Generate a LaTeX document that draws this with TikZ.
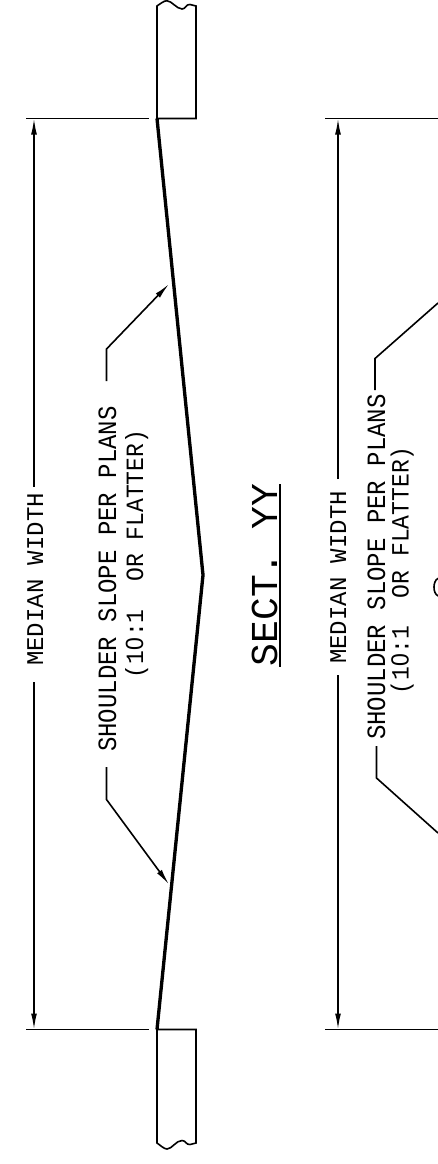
\documentclass[tikz,border=0pt]{standalone}
\usepackage{fontspec}
\usepackage{graphicx}
\setmainfont{Liberation Mono}
\newfontfamily\plainzero{Liberation Sans}
\newcommand{\zeroglyph}{\makebox[0.6em]{\plainzero 0}}
\usetikzlibrary{arrows.meta}
\tikzset{
  thinln/.style={line width=1.2pt,line cap=butt,line join=miter},
  extln/.style={line width=1.25pt},
  slopeln/.style={line width=2.5pt,line join=miter},
  tip/.style={-{Latex[length=12pt,width=4.4pt]}},
  lbl/.style={rotate=90,anchor=base,inner sep=0pt,font=\fontsize{18}{18}\selectfont},
  lblB/.style={lbl,font=\fontsize{17.25}{18}\selectfont},
  titlelbl/.style={rotate=90,anchor=base,inner sep=0pt,font=\fontsize{28.5}{30}\selectfont},
}
\begin{document}
\begin{tikzpicture}[x=0.75pt,y=-0.75pt]
\useasboundingbox (0,0) rectangle (438,1164);
% named points
\coordinate (ltop) at (34,118.5);
\coordinate (lbrkA) at (34,486.5);
\coordinate (lbrkB) at (34,682);
\coordinate (lbot) at (34,1029.5);
\coordinate (rtop) at (338,118.5);
\coordinate (rbrkA) at (338,479);
\coordinate (rbrkB) at (338,675);
\coordinate (rbot) at (338,1029.5);
\coordinate (crestT) at (157,118.5);
\coordinate (apex) at (203,575);
\coordinate (crestB) at (157,1029.5);
% blocks
\draw[thinln] (crestT) -- (157,6) .. controls (160,4) and (164,0.5) .. (167,0.8)
  .. controls (172,1) and (176,8.5) .. (182,9) .. controls (186,9) and (186,4) .. (190,4.5)
  -- (196,6) -- (196,118.5) -- cycle;
\draw[thinln] (crestB) -- (157,1143) .. controls (160,1145) and (164,1149) .. (167,1149)
  .. controls (172,1149) and (176,1140.5) .. (182,1140.5) .. controls (186,1140.5) and (186,1145) .. (190,1144.5)
  -- (196,1143) -- (196,1029.5) -- cycle;
% slope
\draw[slopeln] (crestT) -- (apex) -- (crestB);
% extension lines
\draw[extln] (26,118.5) -- (149,118.5);
\draw[extln] (26,1029.5) -- (149,1029.5);
\draw[extln] (325,118.5) -- (438,118.5);
\draw[extln] (325,1029.5) -- (438,1029.5);
% dimension lines
\draw[thinln,tip] (lbrkA) -- (ltop);
\draw[thinln,tip] (lbrkB) -- (lbot);
\draw[thinln,tip] (rbrkA) -- (rtop);
\draw[thinln,tip] (rbrkB) -- (rbot);
% labels
\node[lbl] (medL) at (43,579.5) {MEDIAN WIDTH};
\node[lbl] (medR) at (346,577.5) {MEDIAN WIDTH};
\node[lbl] (shL) at (116,579) {\scalebox{1}[1.1]{SHOULDER SLOPE PER PLANS}};
\node[lblB] (flL) at (143,554) {\scalebox{1}[1.08]{(1\zeroglyph:1~~OR FLATTER)}};
\node[lbl] (shR) at (385,567) {\scalebox{1}[1.1]{SHOULDER SLOPE PER PLANS}};
\node[lblB] (flR) at (408.5,570.5) {\scalebox{1}[1.08]{(1\zeroglyph:1~~OR FLATTER)}};
\node[titlelbl] (title) at (277,575) {SECT. YY};
\draw[thinln] (280,666.5) -- (280,484);
% leaders
\coordinate (la) at (106.5,381);
\coordinate (lb) at (106.5,349);
\coordinate (lc) at (169,284);
\draw[thinln,tip] (la) -- (lb) -- (lc);
\coordinate (ld) at (106.5,767);
\coordinate (le) at (106.5,799.5);
\coordinate (lf) at (169,884.5);
\draw[thinln,tip] (ld) -- (le) -- (lf);
\coordinate (ra) at (375,390);
\coordinate (rb) at (375,358.5);
\coordinate (rc) at (438,303);
\draw[thinln] (ra) -- (rb) -- (rc);
\coordinate (rd) at (376.5,746);
\coordinate (re) at (376.5,778);
\coordinate (rf) at (438,833);
\draw[thinln] (rd) -- (re) -- (rf);
% clipped symbol at the right edge
\draw[thinln] (438,578.3) .. controls (435,580) and (434,584) .. (434,587) .. controls (434,591) and (435,594) .. (438,596);
\end{tikzpicture}
\end{document}
